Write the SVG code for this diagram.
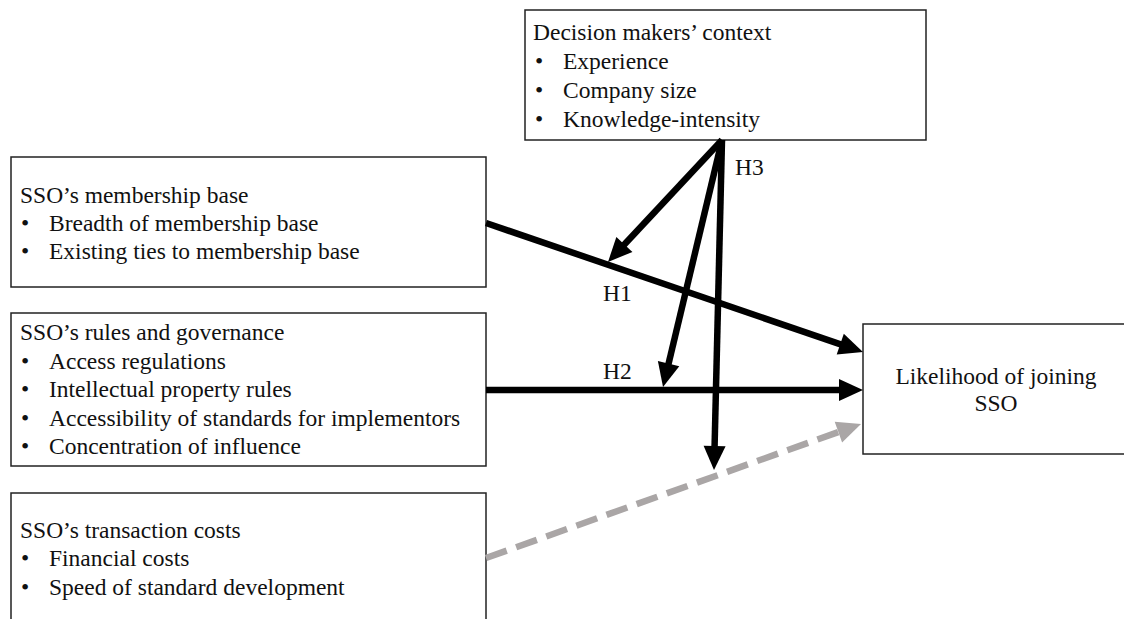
<svg xmlns="http://www.w3.org/2000/svg" width="1124" height="619" viewBox="0 0 1124 619">
<style>
.box{fill:#fff;stroke:#222;stroke-width:1.5}
text{font-family:"Liberation Serif","Times New Roman",serif;font-size:23.5px;fill:#111}
.c{stroke:#000;stroke-width:6.5;fill:none}
.d{stroke:#aaa6a6;stroke-width:6.5;fill:none;stroke-dasharray:22 10}
</style>
<defs>
<marker id="ah" markerUnits="userSpaceOnUse" markerWidth="26" markerHeight="24" refX="12" refY="11" orient="auto" overflow="visible"><path d="M0,0 L24,11 L0,22 z" fill="#000"/></marker>
<marker id="ahg" markerUnits="userSpaceOnUse" markerWidth="26" markerHeight="24" refX="12" refY="11" orient="auto" overflow="visible"><path d="M0,0 L24,11 L0,22 z" fill="#aaa6a6"/></marker>
</defs>
<rect width="1124" height="619" fill="#fff"/>
<g id="context">
<rect class="box" x="525" y="10" width="401" height="130"/>
<text x="533" y="40">Decision makers’ context</text>
<text x="535" y="69">•</text><text x="563" y="69">Experience</text>
<text x="535" y="98">•</text><text x="563" y="98">Company size</text>
<text x="535" y="127">•</text><text x="563" y="127">Knowledge-intensity</text>
</g>
<g id="membership">
<rect class="box" x="11" y="157" width="475" height="130"/>
<text x="20" y="203">SSO’s membership base</text>
<text x="21" y="231">•</text><text x="49" y="231">Breadth of membership base</text>
<text x="21" y="259">•</text><text x="49" y="259">Existing ties to membership base</text>
</g>
<g id="rules">
<rect class="box" x="11" y="313" width="475" height="153"/>
<text x="20" y="340">SSO’s rules and governance</text>
<text x="21" y="368.5">•</text><text x="49" y="368.5">Access regulations</text>
<text x="21" y="397">•</text><text x="49" y="397">Intellectual property rules</text>
<text x="21" y="425.5">•</text><text x="49" y="425.5">Accessibility of standards for implementors</text>
<text x="21" y="454">•</text><text x="49" y="454">Concentration of influence</text>
</g>
<g id="transaction">
<rect class="box" x="11" y="493" width="475" height="140"/>
<text x="20" y="538">SSO’s transaction costs</text>
<text x="21" y="566">•</text><text x="49" y="566">Financial costs</text>
<text x="21" y="595">•</text><text x="49" y="595">Speed of standard development</text>
</g>
<g id="likelihood">
<rect class="box" x="863" y="324" width="280" height="130"/>
<text x="996" y="384" text-anchor="middle">Likelihood of joining</text>
<text x="996" y="411" text-anchor="middle">SSO</text>
</g>
<g id="connectors">
<line class="c" x1="486" y1="223" x2="851.6" y2="348.1" marker-end="url(#ah)"/>
<line class="c" x1="486" y1="390" x2="851" y2="390" marker-end="url(#ah)"/>
<line class="d" x1="486" y1="558" x2="849.7" y2="428" marker-end="url(#ahg)"/>
<line class="c" x1="722" y1="140" x2="616.2" y2="253.2" marker-end="url(#ah)"/>
<line class="c" x1="722" y1="140" x2="665.8" y2="375.3" marker-end="url(#ah)"/>
<line class="c" x1="722" y1="140" x2="714.3" y2="458" marker-end="url(#ah)"/>
<text x="735" y="175">H3</text>
<text x="603" y="301">H1</text>
<text x="603" y="379">H2</text>
</g>
</svg>
